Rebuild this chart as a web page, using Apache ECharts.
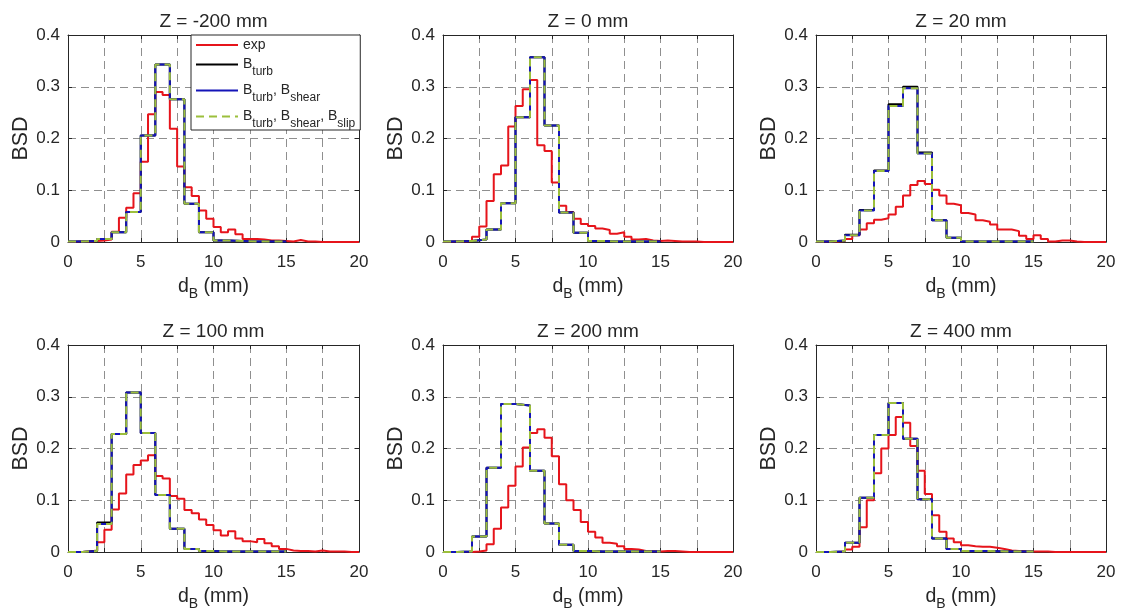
<!DOCTYPE html>
<html>
<head>
<meta charset="utf-8">
<script src="https://cdn.jsdelivr.net/npm/echarts@6/dist/echarts.min.js"></script>
<style>
html,body{margin:0;padding:0;background:#fff;}
#chart{width:1123px;height:614px;}
</style>
</head>
<body>
<div id="chart"></div>
<script>
// ---------------- data ----------------
const expEdges = [0,0.5,1,1.5,2,2.5,3,3.5,4,4.5,5,5.5,6,6.5,7,7.5,8,8.5,9,9.5,10,10.5,11,11.5,12,12.5,13,13.5,14,14.5,15,15.5,16,16.5,17,17.5,18,18.5,19,19.5,20];
const simEdges = [0,1,2,3,4,5,6,7,8,9,10,11,12,13,14,15];
const panelTitles = ['Z = -200 mm','Z = 0 mm','Z = 20 mm','Z = 100 mm','Z = 200 mm','Z = 400 mm'];
const xTickLabels = [0,5,10,15,20];
const yTickLabels = [0,0.1,0.2,0.3,0.4];
const seriesNames = ['exp','B_turb','B_turb, B_shear','B_turb, B_shear, B_slip'];

// Z = -200 mm
const expZm200 = [0,0.001,0.001,0.002,0.003,0.005,0.02,0.047,0.066,0.094, 0.155,0.247,0.29,0.284,0.219,0.146,0.106,0.089,0.061,0.045, 0.029,0.019,0.024,0.015,0.006,0.006,0.005,0.003,0.003,0.002, 0.001,0.004,0.001,0.001,0,0,0,0,0,0];
const turbZm200  = [0.001,0.002,0.006,0.019,0.058,0.206,0.343,0.276,0.074,0.019,0.003,0.002,0.001,0.001,0.001];
const shearZm200 = [0.001,0.002,0.006,0.019,0.058,0.206,0.343,0.276,0.074,0.019,0.003,0.002,0.001,0.001,0.001];
const slipZm200  = [0.001,0.002,0.006,0.019,0.058,0.206,0.343,0.276,0.074,0.019,0.003,0.002,0.001,0.001,0.001];
// Z = 0 mm
const expZ0 = [0,0.001,0.001,0.002,0.01,0.03,0.079,0.131,0.148,0.223, 0.263,0.295,0.313,0.187,0.176,0.115,0.07,0.058,0.045,0.035, 0.031,0.026,0.023,0.016,0.019,0.01,0.005,0.006,0.003,0.002, 0.003,0.002,0.001,0.001,0.001,0,0,0,0,0];
const turbZ0  = [0.001,0.002,0.005,0.024,0.075,0.241,0.357,0.225,0.057,0.018,0.002,0.001,0.001,0.001,0.001];
const shearZ0 = [0.001,0.002,0.005,0.024,0.075,0.241,0.357,0.225,0.057,0.018,0.002,0.001,0.001,0.001,0.001];
const slipZ0  = [0.001,0.002,0.005,0.024,0.075,0.241,0.357,0.225,0.057,0.018,0.002,0.001,0.001,0.001,0.001];
// Z = 20 mm
const expZ20 = [0,0.001,0.001,0.002,0.006,0.013,0.024,0.036,0.043,0.046, 0.053,0.068,0.09,0.11,0.118,0.112,0.101,0.09,0.074,0.071, 0.056,0.053,0.042,0.039,0.034,0.024,0.024,0.021,0.012,0.006, 0.013,0.006,0.001,0.003,0.003,0.001,0,0,0,0];
const turbZ20  = [0.001,0.003,0.014,0.062,0.138,0.266,0.3,0.173,0.042,0.008,0.001,0.001,0.001,0.001,0.001];
const shearZ20 = [0.001,0.003,0.013,0.061,0.137,0.263,0.297,0.171,0.042,0.008,0.001,0.001,0.001,0.001,0.001];
const slipZ20  = [0.001,0.003,0.013,0.061,0.137,0.263,0.297,0.171,0.042,0.008,0.001,0.001,0.001,0.001,0.001];
// Z = 100 mm
const expZ100 = [0,0,0.001,0.003,0.019,0.043,0.082,0.113,0.15,0.168, 0.177,0.187,0.147,0.142,0.108,0.103,0.081,0.075,0.063,0.052, 0.042,0.032,0.04,0.026,0.021,0.019,0.025,0.017,0.011,0.006, 0.003,0.002,0.002,0.001,0.003,0.001,0.001,0.001,0,0];
const turbZ100  = [0,0.002,0.057,0.228,0.308,0.23,0.11,0.045,0.006,0.002,0.001,0.001,0.001,0.001,0.001];
const shearZ100 = [0,0.002,0.054,0.228,0.308,0.23,0.11,0.045,0.006,0.002,0.001,0.001,0.001,0.001,0.001];
const slipZ100  = [0,0.002,0.054,0.228,0.308,0.23,0.11,0.045,0.006,0.002,0.001,0.001,0.001,0.001,0.001];
// Z = 200 mm
const expZ200 = [0,0,0,0,0.001,0.003,0.015,0.045,0.086,0.128, 0.165,0.202,0.23,0.237,0.221,0.185,0.131,0.1,0.081,0.058, 0.039,0.028,0.018,0.016,0.011,0.006,0.005,0.002,0.001,0.001, 0.002,0.002,0.001,0,0,0,0,0,0,0];
const turbZ200  = [0,0.001,0.03,0.163,0.286,0.283,0.157,0.055,0.014,0.002,0.001,0.001,0.001,0.001,0.001];
const shearZ200 = [0,0.001,0.03,0.163,0.286,0.283,0.157,0.055,0.014,0.002,0.001,0.001,0.001,0.001,0.001];
const slipZ200  = [0,0.001,0.03,0.163,0.286,0.283,0.157,0.055,0.014,0.002,0.001,0.001,0.001,0.001,0.001];
// Z = 400 mm
const expZ400 = [0,0,0,0.001,0.005,0.01,0.048,0.1,0.152,0.2, 0.226,0.261,0.25,0.205,0.157,0.112,0.071,0.039,0.026,0.019, 0.013,0.011,0.01,0.01,0.008,0.006,0.003,0.002,0.001,0.001, 0.001,0.001,0,0,0,0,0,0,0,0];
const turbZ400  = [0,0.001,0.018,0.105,0.226,0.288,0.219,0.102,0.026,0.006,0.002,0.002,0.001,0.001,0.001];
const shearZ400 = [0,0.001,0.018,0.105,0.226,0.288,0.219,0.102,0.026,0.006,0.002,0.002,0.001,0.001,0.001];
const slipZ400  = [0,0.001,0.018,0.105,0.226,0.288,0.219,0.102,0.026,0.006,0.002,0.002,0.001,0.001,0.001];

const panels = [
  [expZm200, turbZm200, shearZm200, slipZm200],
  [expZ0, turbZ0, shearZ0, slipZ0],
  [expZ20, turbZ20, shearZ20, slipZ20],
  [expZ100, turbZ100, shearZ100, slipZ100],
  [expZ200, turbZ200, shearZ200, slipZ200],
  [expZ400, turbZ400, shearZ400, slipZ400]
];

// ---------------- layout / style ----------------
const FONT = '"Liberation Sans", Arial, Helvetica, sans-serif';
const TXT = '#262626';
const colLeft = [68, 443, 816];
const colWidth = [291, 290, 290];
const rowTop = [35, 345];
const plotH = 207;
const colors = ['#e6141b', '#000000', '#1414b8', '#9cbf3c'];

function stairs(edges, vals) {
  const pts = [];
  for (let i = 0; i < vals.length; i++) {
    pts.push([edges[i], vals[i]]);
    pts.push([edges[i + 1], vals[i]]);
  }
  return pts;
}

function subRich(name) {
  return name.split(', ').map(p => {
    const k = p.split('_');
    return k.length > 1 ? '{m|' + k[0] + '}{s|' + k[1] + '}' : '{m|' + p + '}';
  }).join('{m|, }');
}

const grids = [], xAxes = [], yAxes = [], series = [], graphics = [];
for (let p = 0; p < 6; p++) {
  const r = Math.floor(p / 3), c = p % 3;
  const left = colLeft[c], top = rowTop[r], w = colWidth[c];
  grids.push({left: left, top: top, width: w, height: plotH, outerBoundsMode: 'none', containLabel: false});
  const axLine = {show: true, onZero: false, lineStyle: {color: TXT, width: 1}};
  const tick = {show: true, inside: true, length: 4, lineStyle: {color: TXT, width: 1}};
  xAxes.push({
    type: 'value', gridIndex: p, position: 'bottom', min: 0, max: 20, interval: 2.5,
    axisLine: axLine, axisTick: tick,
    axisLabel: {show: true, margin: 12, color: TXT, fontSize: 17, fontFamily: FONT,
      formatter: v => xTickLabels.indexOf(v) >= 0 ? String(v) : ''},
    splitLine: {show: true, lineStyle: {color: '#8f8f8f', width: 1, type: [8, 5]}}
  });
  xAxes.push({
    type: 'value', gridIndex: p, position: 'top', min: 0, max: 20, interval: 2.5,
    axisLine: axLine, axisTick: tick, axisLabel: {show: false}, splitLine: {show: false}
  });
  yAxes.push({
    type: 'value', gridIndex: p, position: 'left', min: 0, max: 0.4, interval: 0.1,
    axisLine: axLine, axisTick: tick,
    axisLabel: {show: true, margin: 8, color: TXT, fontSize: 17, fontFamily: FONT,
      formatter: v => { const t = Math.round(v * 10) / 10; return yTickLabels.indexOf(t) >= 0 ? String(t) : ''; }},
    splitLine: {show: true, lineStyle: {color: '#8f8f8f', width: 1, type: [8, 5]}}
  });
  yAxes.push({
    type: 'value', gridIndex: p, position: 'right', min: 0, max: 0.4, interval: 0.1,
    axisLine: axLine, axisTick: tick, axisLabel: {show: false}, splitLine: {show: false}
  });
  const data = panels[p];
  for (let s = 0; s < 4; s++) {
    const edges = s === 0 ? expEdges : simEdges;
    series.push({
      name: seriesNames[s], type: 'line', xAxisIndex: 2 * p, yAxisIndex: 2 * p,
      data: stairs(edges, data[s]), symbol: 'none', showSymbol: false, silent: true, animation: false,
      lineStyle: {color: colors[s], width: 2, type: s === 3 ? [8, 5] : 'solid'},
      itemStyle: {color: colors[s]},
      z: 2 + s
    });
  }
  const cx = left + w / 2;
  graphics.push({type: 'text', x: cx, y: top - 13.6, silent: true,
    style: {text: panelTitles[p], fontSize: 19, fontFamily: FONT, fill: TXT, align: 'center', verticalAlign: 'middle'}});
  graphics.push({type: 'text', x: cx, y: top + plotH + 44.8, silent: true,
    style: {text: '{m|d}{s|B}{m| (mm)}', fill: TXT, align: 'center', verticalAlign: 'middle',
      rich: {m: {fontSize: 19.5, fontFamily: FONT, fill: TXT},
             s: {fontSize: 14, lineHeight: 14, padding: [15, 0, 0, 0], fontFamily: FONT, fill: TXT}}}});
  graphics.push({type: 'text', x: left - 47, y: top + plotH / 2, rotation: Math.PI / 2, silent: true,
    style: {text: 'BSD', fontSize: 21.5, fontFamily: FONT, fill: TXT, align: 'center', verticalAlign: 'middle'}});
}

const option = {
  backgroundColor: '#ffffff',
  animation: false,
  grid: grids,
  xAxis: xAxes,
  yAxis: yAxes,
  series: series,
  legend: {
    show: true, orient: 'vertical', left: 191, top: 35,
    data: seriesNames, itemWidth: 42, itemHeight: 12, itemGap: -1,
    backgroundColor: '#ffffff', borderColor: TXT, borderWidth: 1, borderRadius: 0,
    padding: [3, 5, 0, 4], selectedMode: false,
    itemStyle: {opacity: 0, borderWidth: 0},
    formatter: name => subRich(name),
    textStyle: {color: TXT, fontFamily: FONT, fontSize: 14,
      rich: {m: {fontSize: 14, lineHeight: 14, fontFamily: FONT, color: TXT},
             s: {fontSize: 12, lineHeight: 12, padding: [15, 0, 0, 0], fontFamily: FONT, color: TXT}}}
  },
  graphic: graphics
};

const chart = echarts.init(document.getElementById('chart'), null, {renderer: 'canvas'});
chart.setOption(option);
</script>
</body>
</html>
